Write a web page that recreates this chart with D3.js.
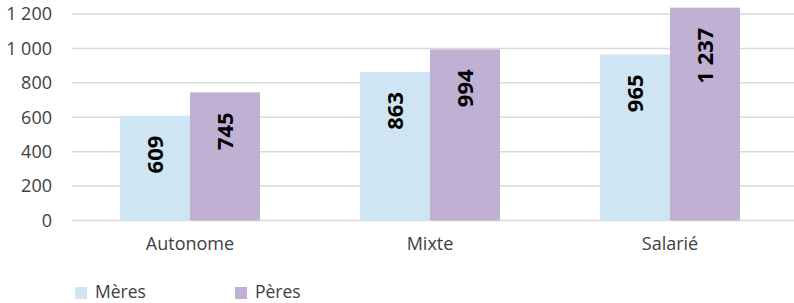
<!DOCTYPE html>
<html><head><meta charset="utf-8">
<script src="https://cdn.jsdelivr.net/npm/d3@7"></script>
<style>body{margin:0;background:#fff}svg{display:block;font-family:"Open Sans",sans-serif}</style>
</head><body><svg id="c" width="794" height="303"></svg>
<script>
const categories = ["Autonome", "Mixte", "Salarié"];
const seriesNames = ["Mères", "Pères"];
const meres = [609, 863, 965];
const peres = [745, 994, 1237];
const yTicks = [0, 200, 400, 600, 800, 1000, 1200];
const colors = ["#d0e5f3", "#c0b0d3"];

const svg = d3.select("#c");
const fmt = v => d3.format(",")(v).replace(/,/g, " ");
const x = d3.scaleBand().domain(categories).range([70, 790]).paddingInner(0.4167).paddingOuter(0.2083);
const xs = d3.scaleBand().domain(seriesNames).range([0, x.bandwidth()]);
const y = d3.scaleLinear().domain([0, 1200]).range([220.5, 14]);

// gridlines
svg.append("g").selectAll("line").data(yTicks).join("line")
  .attr("x1", 72).attr("x2", 794).attr("y1", d => y(d)).attr("y2", d => y(d))
  .attr("stroke", "#d9d9d9").attr("stroke-width", 1.5);

// y axis labels
const ya = svg.append("g").attr("transform", "translate(52,0)")
  .call(d3.axisLeft(y).tickValues(yTicks).tickFormat(fmt).tickSize(0).tickPadding(0));
ya.select(".domain").remove();
ya.selectAll("text").attr("font-size", 18).attr("fill", "#404040").attr("font-family", "Open Sans");

// bars
const data = categories.map((c, i) => ({c, vals: [meres[i], peres[i]]}));
const g = svg.append("g").selectAll("g").data(data).join("g")
  .attr("transform", d => `translate(${x(d.c)},0)`);
g.selectAll("rect").data(d => d.vals.map((v, j) => ({v, s: seriesNames[j], j}))).join("rect")
  .attr("x", d => xs(d.s)).attr("width", xs.bandwidth())
  .attr("y", d => y(d.v)).attr("height", d => y(0) - y(d.v))
  .attr("fill", d => colors[d.j]);
g.selectAll("text").data(d => d.vals.map((v, j) => ({v, s: seriesNames[j], j}))).join("text")
  .attr("transform", d => `translate(${xs(d.s) + xs.bandwidth() / 2},${y(d.v) + 20}) rotate(-90)`)
  .attr("text-anchor", "end").attr("dy", "0.35em")
  .attr("font-size", 22).attr("font-weight", "bold").attr("fill", "#000")
  .text(d => fmt(d.v));

// x axis labels
const xa = svg.append("g").attr("transform", `translate(0,${y(0)})`)
  .call(d3.axisBottom(x).tickSize(0).tickPadding(17));
xa.select(".domain").remove();
xa.selectAll("text").attr("font-size", 18).attr("fill", "#404040").attr("font-family", "Open Sans");

// legend
const lx = [75, 235];
const lg = svg.append("g").selectAll("g").data(seriesNames).join("g")
  .attr("transform", (d, i) => `translate(${lx[i]},287)`);
lg.append("rect").attr("width", 12).attr("height", 12).attr("fill", (d, i) => colors[i]);
lg.append("text").attr("x", 20).attr("y", 11)
  .attr("font-size", 17.5).attr("fill", "#404040").text(d => d);
</script></body></html>
